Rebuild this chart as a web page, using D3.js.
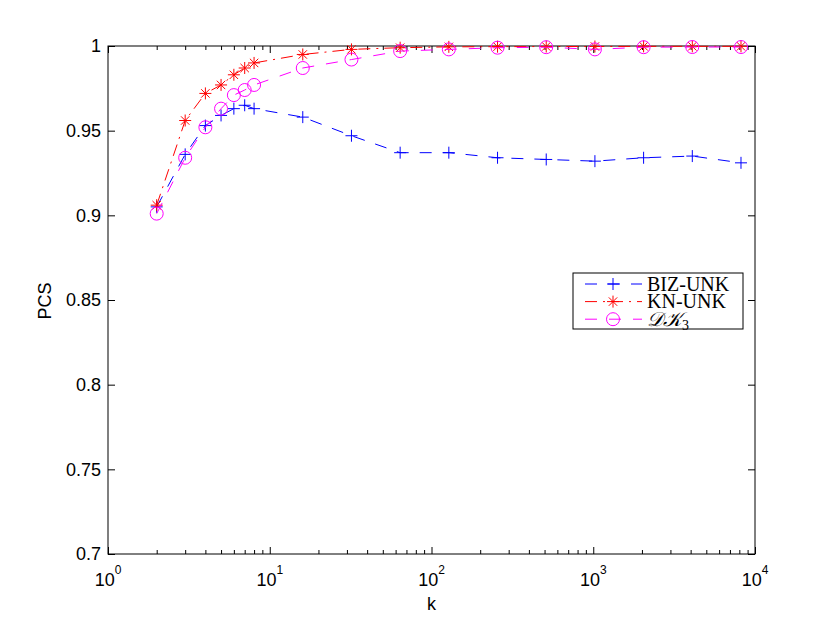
<!DOCTYPE html>
<html>
<head>
<meta charset="utf-8">
<script src="https://cdn.jsdelivr.net/npm/d3@7"></script>
<style>
  body { margin: 0; background: #fff; }
  svg { display: block; }
</style>
</head>
<body>
<script>
// values
const kValues = [2, 3, 4, 5, 6, 7, 8, 16, 32, 64, 128, 256, 512, 1024, 2048, 4096, 8192]
const bizUnk = [0.905, 0.936, 0.953, 0.959, 0.963, 0.965, 0.963, 0.958, 0.947, 0.937, 0.937, 0.934, 0.933, 0.932, 0.934, 0.935, 0.931]
const knUnk = [0.906, 0.956, 0.972, 0.977, 0.983, 0.987, 0.990, 0.995, 0.998, 0.999, 0.9995, 0.9996, 0.9997, 0.9997, 0.9998, 0.9998, 0.9998]
const dk3 = [0.901, 0.934, 0.952, 0.963, 0.971, 0.974, 0.977, 0.987, 0.992, 0.997, 0.998, 0.999, 0.9993, 0.998, 0.9993, 0.9994, 0.9994]

const yTicks = [0.7, 0.75, 0.8, 0.85, 0.9, 0.95, 1]
const xMajor = [1, 10, 100, 1000, 10000]
const xExp = ['0', '1', '2', '3', '4']

const series = [
  {name: 'BIZ-UNK', values: bizUnk, color: '#0000ff', dash: '12,11', marker: 'plus'},
  {name: 'KN-UNK', values: knUnk, color: '#ff0000', dash: '12,6,2,6', marker: 'star'},
  {name: 'DK3', values: dk3, color: '#ff00ff', dash: '12,12', marker: 'circle'}
]

const W = 830, H = 624
const pLeft = 108, pRight = 755, pTop = 46, pBottom = 554

const svg = d3.select('body').append('svg')
  .attr('width', W)
  .attr('height', H)
  .style('font-family', 'Liberation Sans, Arial, sans-serif')

let x = d3.scaleLog().domain([1, 10000]).range([pLeft, pRight])
let y = d3.scaleLinear().domain([0.7, 1]).range([pBottom, pTop])

let xMinor = x.ticks().filter(v => xMajor.indexOf(v) < 0)

// box
svg.append('rect')
  .attr('x', pLeft).attr('y', pTop)
  .attr('width', pRight - pLeft).attr('height', pBottom - pTop)
  .attr('fill', '#fff').attr('stroke', '#000').attr('stroke-width', 1)

let addAxis = (axis, tx, ty) => {
  let g = svg.append('g')
    .attr('transform', `translate(${tx},${ty})`)
    .call(axis.tickFormat('').tickSizeOuter(0))
  g.select('.domain').remove()
  g.selectAll('line').attr('stroke', '#000').attr('stroke-width', 1)
  return g
}

addAxis(d3.axisBottom(x).tickValues(xMajor).tickSizeInner(-7), 0, pBottom)
addAxis(d3.axisBottom(x).tickValues(xMinor).tickSizeInner(-4), 0, pBottom)
addAxis(d3.axisTop(x).tickValues(xMajor).tickSizeInner(-7), 0, pTop)
addAxis(d3.axisTop(x).tickValues(xMinor).tickSizeInner(-4), 0, pTop)
addAxis(d3.axisLeft(y).tickValues(yTicks).tickSizeInner(-7), pLeft, 0)
addAxis(d3.axisRight(y).tickValues(yTicks).tickSizeInner(-7), pRight, 0)

// y tick labels
svg.selectAll('.ylab')
  .data(yTicks)
  .enter().append('text')
  .attr('x', pLeft - 7)
  .attr('y', d => y(d))
  .attr('dy', '0.36em')
  .attr('text-anchor', 'end')
  .attr('font-size', 18)
  .text(d => String(+d.toFixed(2)))

// x tick labels 10^n
let xl = svg.selectAll('.xlab')
  .data(xMajor)
  .enter().append('text')
  .attr('x', d => x(d))
  .attr('y', pBottom + 32)
  .attr('text-anchor', 'middle')
  .attr('font-size', 18)
xl.append('tspan').text('10')
xl.append('tspan')
  .attr('font-size', 12)
  .attr('dy', -12)
  .text((d, i) => xExp[i])

svg.append('text')
  .attr('x', (pLeft + pRight) / 2)
  .attr('y', 610)
  .attr('text-anchor', 'middle')
  .attr('font-size', 18)
  .text('k')

svg.append('text')
  .attr('transform', 'translate(51,301) rotate(-90)')
  .attr('text-anchor', 'middle')
  .attr('font-size', 18)
  .text('PCS')

let markerPath = (type) => {
  if (type == 'plus') return 'M-6,0L6,0M0,-6L0,6'
  if (type == 'star') {
    let d = 4.2
    return `M-6,0L6,0M0,-6L0,6M${-d},${-d}L${d},${d}M${-d},${d}L${d},${-d}`
  }
  return d3.arc()({innerRadius: 0, outerRadius: 6.5, startAngle: 0, endAngle: 2 * Math.PI})
}

let line = d3.line()
  .x(d => x(d[0]))
  .y(d => y(d[1]))

series.forEach(s => {
  let pts = kValues.map((k, i) => [k, s.values[i]])
  svg.append('path')
    .attr('d', line(pts))
    .attr('fill', 'none')
    .attr('stroke', s.color)
    .attr('stroke-width', 1)
    .attr('stroke-dasharray', s.dash)

  svg.selectAll(null)
    .data(pts)
    .enter().append('path')
    .attr('transform', d => `translate(${x(d[0])},${y(d[1])})`)
    .attr('d', markerPath(s.marker))
    .attr('fill', 'none')
    .attr('stroke', s.color)
    .attr('stroke-width', 1)
})

// legend
let lg = svg.append('g').attr('transform', 'translate(573,273)')
lg.append('rect')
  .attr('width', 170).attr('height', 56)
  .attr('fill', '#fff').attr('stroke', '#000').attr('stroke-width', 1)

series.forEach((s, i) => {
  let cy = 11 + i * 17.6
  lg.append('line')
    .attr('x1', 12).attr('x2', 69)
    .attr('y1', cy).attr('y2', cy)
    .attr('stroke', s.color)
    .attr('stroke-width', 1)
    .attr('stroke-dasharray', s.dash)
  lg.append('path')
    .attr('transform', `translate(40,${cy})`)
    .attr('d', markerPath(s.marker))
    .attr('fill', 'none')
    .attr('stroke', s.color)
    .attr('stroke-width', 1)
  let t = lg.append('text')
    .attr('x', 74)
    .attr('y', cy + 6.5)
    .attr('font-family', 'Liberation Serif, Times New Roman, serif')
    .attr('font-size', 20)
  if (s.name == 'DK3') {
    t.append('tspan').attr('font-style', 'italic').text('\u{1D49F}\u{1D4A6}')
    t.append('tspan').attr('font-size', 14).attr('dy', 4).text('3')
  } else {
    t.text(s.name)
  }
})
</script>
</body>
</html>
